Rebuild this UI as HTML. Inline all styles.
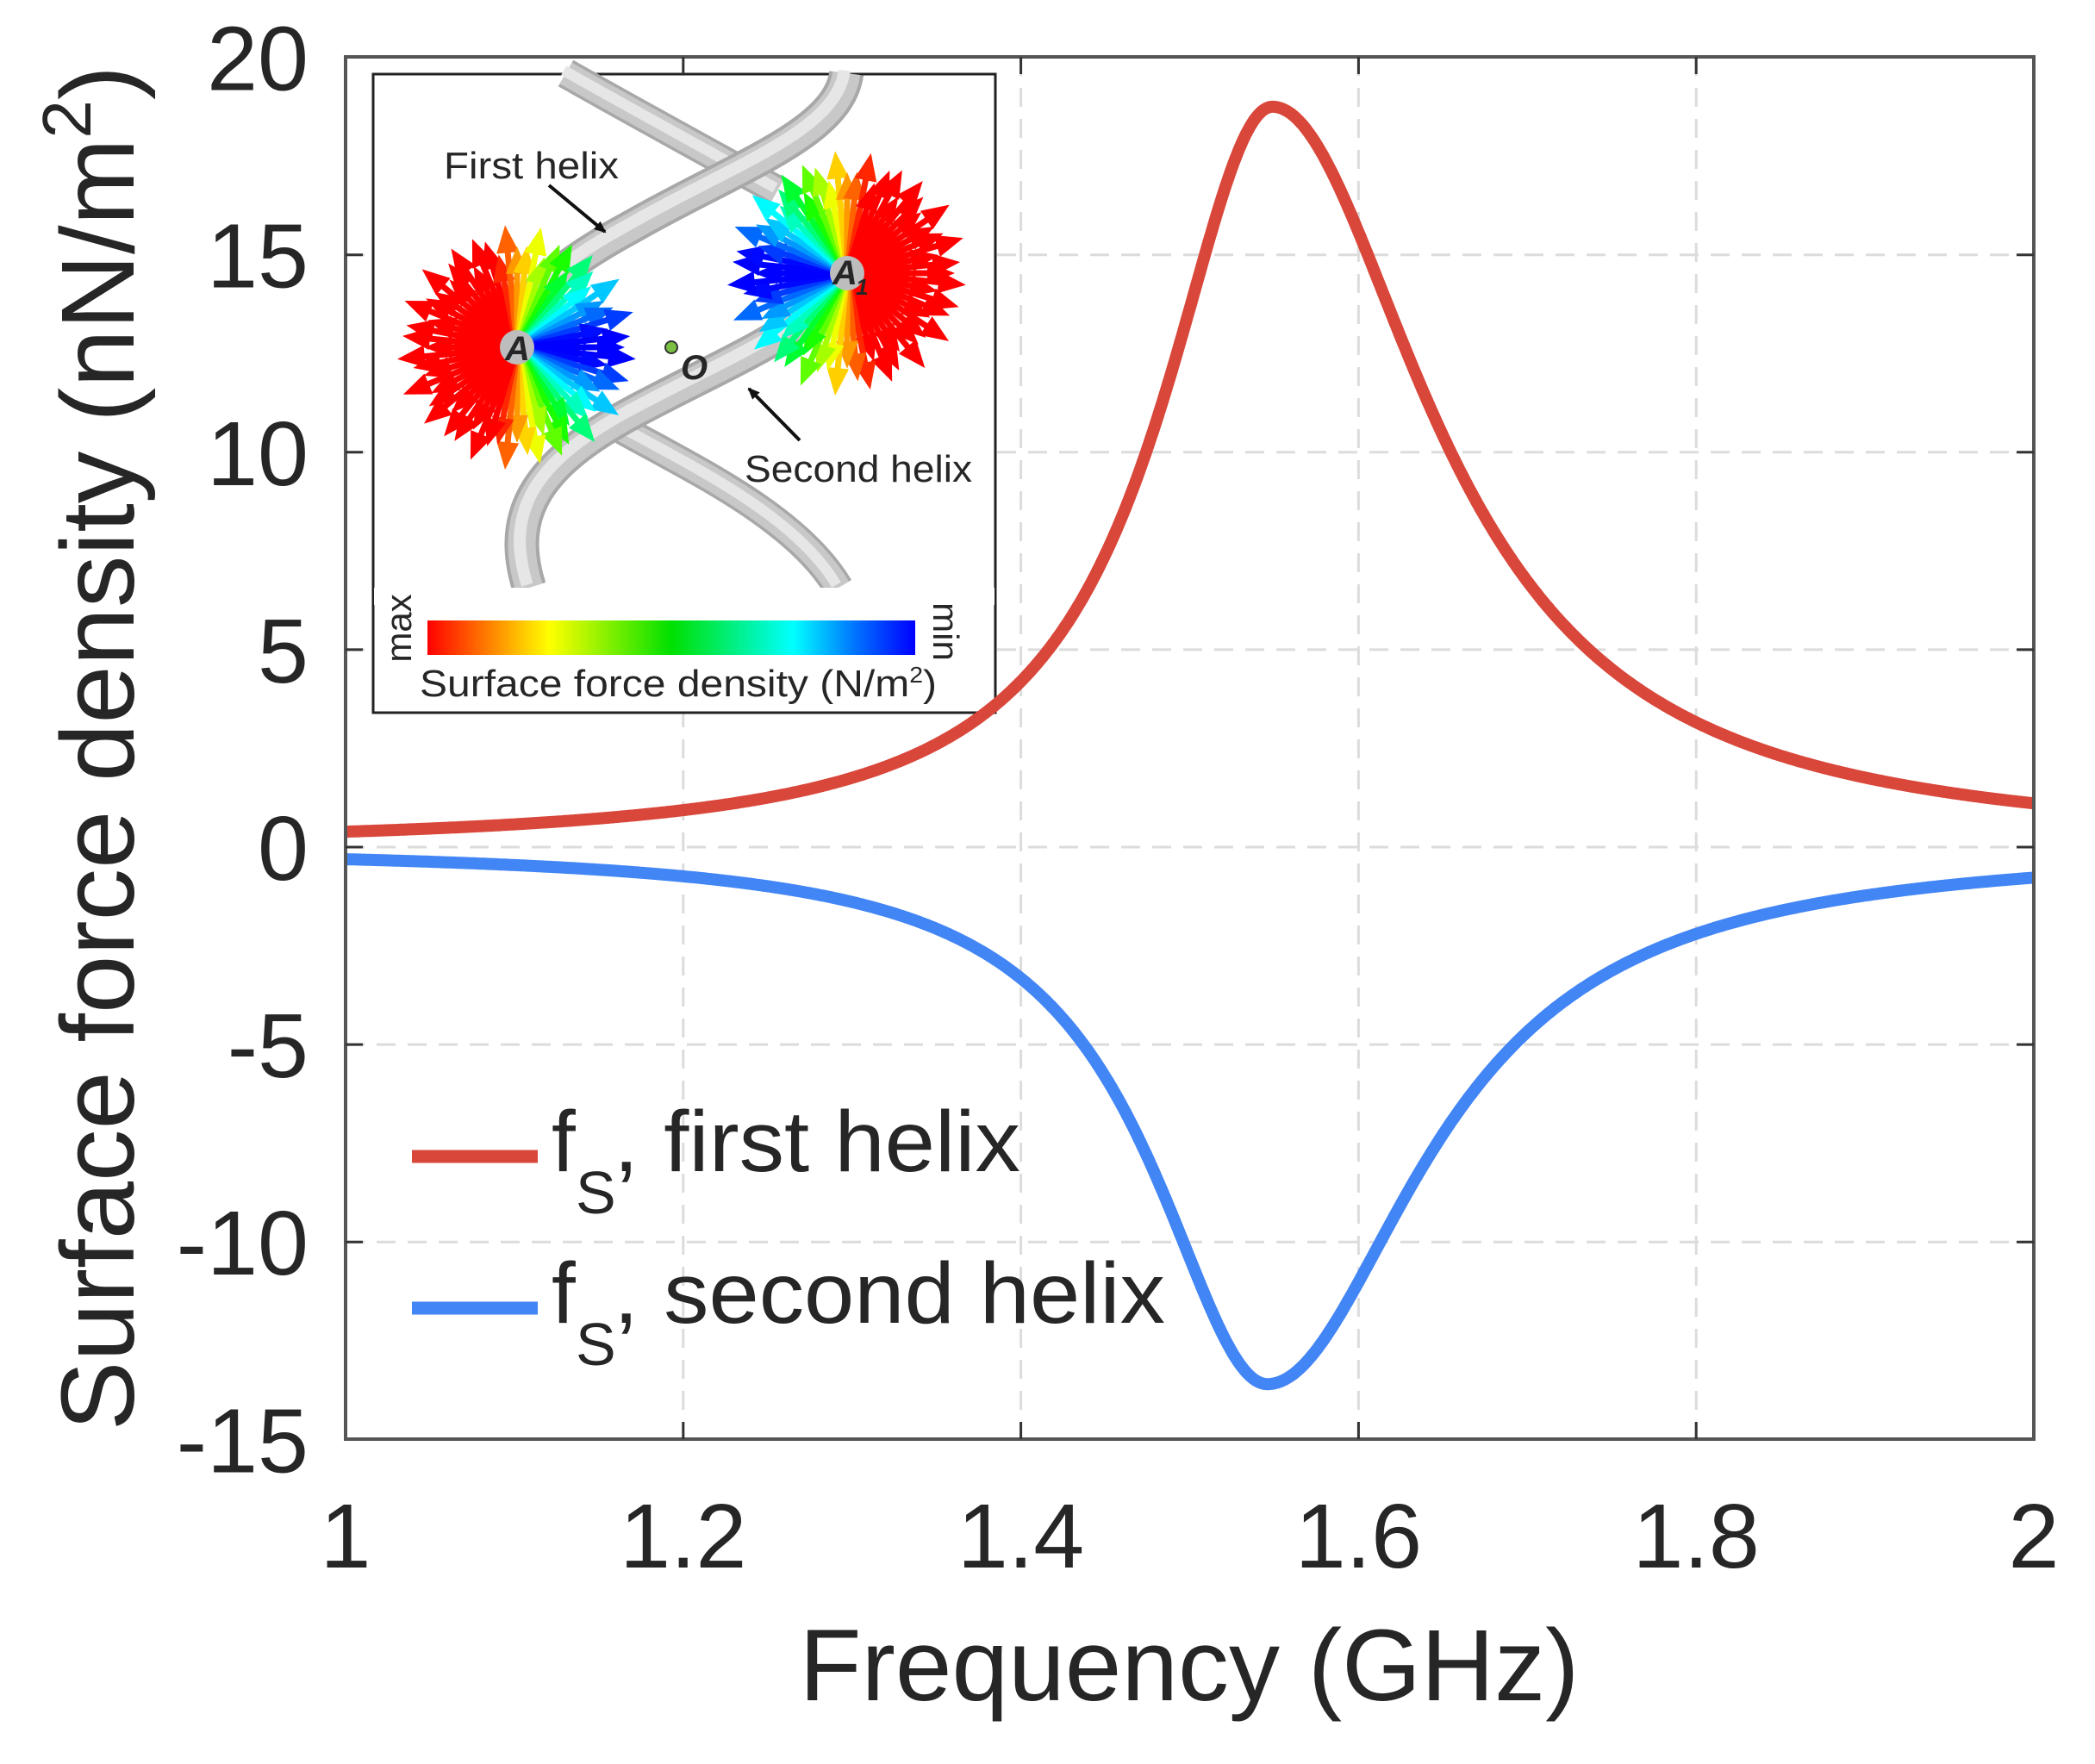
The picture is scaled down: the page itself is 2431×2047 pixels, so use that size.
<!DOCTYPE html>
<html><head><meta charset="utf-8">
<style>
html,body{margin:0;padding:0;background:#fff;}
svg{display:block;}
text{font-family:"Liberation Sans",Arial,sans-serif;fill:#262626;}
</style></head>
<body>
<svg id="s" width="2431" height="2047" viewBox="0 0 2431 2047" xmlns="http://www.w3.org/2000/svg">
<defs>
<linearGradient id="cb" x1="0" x2="1" y1="0" y2="0">
<stop offset="0" stop-color="#ff0000"/>
<stop offset="0.12" stop-color="#ff7a00"/>
<stop offset="0.25" stop-color="#ffff00"/>
<stop offset="0.5" stop-color="#00e000"/>
<stop offset="0.75" stop-color="#00ffff"/>
<stop offset="0.88" stop-color="#0070ff"/>
<stop offset="1" stop-color="#0000ff"/>
</linearGradient>
<marker id="ah" markerWidth="14" markerHeight="12" refX="12" refY="6" orient="auto" markerUnits="userSpaceOnUse">
<path d="M0,0 L14,6 L0,12 Z" fill="#111"/>
</marker>
</defs>
<rect width="2431" height="2047" fill="#fff"/>
<g id="grid"></g>
<g id="inset"></g>
<g id="curves"></g>
<g id="axes"></g>
<g id="labels"></g>
<line x1="478" y1="1342" x2="624" y2="1342" stroke="#d9473b" stroke-width="15"/>
<line x1="478" y1="1518" x2="624" y2="1518" stroke="#4285f4" stroke-width="15"/>
<text x="640" y="1359" font-size="100">f</text>
<text x="668" y="1408" font-size="70">S</text>
<text x="712" y="1359" font-size="100" textLength="472" lengthAdjust="spacingAndGlyphs">, first helix</text>
<text x="640" y="1535" font-size="100">f</text>
<text x="668" y="1584" font-size="70">S</text>
<text x="712" y="1535" font-size="100" textLength="640" lengthAdjust="spacingAndGlyphs">, second helix</text>
<text x="1380" y="1973" font-size="118" text-anchor="middle">Frequency (GHz)</text>
<text transform="translate(155,868) rotate(-90)" font-size="121" text-anchor="middle">Surface force density (nN/m<tspan font-size="80" dy="-50">2</tspan><tspan dy="50">)</tspan></text>
</svg>
<script>
var NS="http://www.w3.org/2000/svg";
function el(p,t,a){var e=document.createElementNS(NS,t);for(var k in a)e.setAttribute(k,a[k]);p.appendChild(e);return e;}
var L=401,R=2360,T=66,B=1670,Y0=983,S=45.82;
function X(f){return L+(f-1)*(R-L);}
function Y(v){return Y0-v*S;}
var g=document.getElementById('grid'),ax=document.getElementById('axes'),lb=document.getElementById('labels'),cv=document.getElementById('curves');
var xt=[1,1.2,1.4,1.6,1.8,2],xl=["1","1.2","1.4","1.6","1.8","2"];
for(var i=1;i<5;i++){el(g,'line',{x1:X(xt[i]),x2:X(xt[i]),y1:T,y2:B,stroke:'#dcdcdc','stroke-width':3,'stroke-dasharray':'22,14'});}
for(var v=-10;v<=15;v+=5){el(g,'line',{x1:L,x2:R,y1:Y(v),y2:Y(v),stroke:'#dcdcdc','stroke-width':3,'stroke-dasharray':'22,14'});}
function red(f){var d=f-1.549,w=d<0?0.080:0.113;return 18.75/(1+(d/w)*(d/w));}
function blue(f){var d=f-1.546,w=d<0?0.083:0.1115;return -13.6/(1+(d/w)*(d/w));}
function path(fn){var s="";for(var i=0;i<=1000;i++){var f=1+i/1000;s+=(i?"L":"M")+X(f).toFixed(1)+","+Y(fn(f)).toFixed(1);}return s;}
el(cv,'path',{d:path(red),fill:'none',stroke:'#d9473b','stroke-width':14,'stroke-linejoin':'round'});
el(cv,'path',{d:path(blue),fill:'none',stroke:'#4285f4','stroke-width':14,'stroke-linejoin':'round'});
el(ax,'rect',{x:L,y:T,width:R-L,height:B-T,fill:'none',stroke:'#555','stroke-width':4});
for(var i=1;i<5;i++){var x=X(xt[i]);el(ax,'line',{x1:x,x2:x,y1:B,y2:B-20,stroke:'#333','stroke-width':3});el(ax,'line',{x1:x,x2:x,y1:T,y2:T+20,stroke:'#333','stroke-width':3});}
for(var v=-10;v<=15;v+=5){el(ax,'line',{x1:L,x2:L+20,y1:Y(v),y2:Y(v),stroke:'#333','stroke-width':3});el(ax,'line',{x1:R,x2:R-20,y1:Y(v),y2:Y(v),stroke:'#333','stroke-width':3});}
for(var i=0;i<6;i++){var t=el(lb,'text',{x:X(xt[i]),y:1819,'font-size':106,'text-anchor':'middle'});t.textContent=xl[i];}
for(var v=-15;v<=20;v+=5){var t=el(lb,'text',{x:358,y:Y(v)+38,'font-size':106,'text-anchor':'end'});t.textContent=String(v);}
var ins=document.getElementById('inset');
el(ins,'rect',{x:433,y:86,width:722,height:741,fill:'#fff',stroke:'#222','stroke-width':3});
var hg=el(ins,'g',{transform:'translate(430,85) scale(0.472,0.47)'});
function tube(d,w){el(hg,'path',{d:d,fill:'none',stroke:'#a8a8a8','stroke-width':w});el(hg,'path',{d:d,fill:'none',stroke:'#c8c8c8','stroke-width':w*0.8});el(hg,'path',{d:d,fill:'none',stroke:'#e6e6e6','stroke-width':w*0.35,transform:'translate(-5,-7)'});}
tube("M480,0 C620,80 820,190 1000,290",75);
tube("M620,880 C800,980 1050,1100 1150,1270",75);
tube("M1170,0 C1150,150 900,230 640,380 C420,500 360,580 360,680",85);
tube("M1170,480 C1120,620 900,700 640,840 C420,960 330,1080 390,1270",85);
el(ins,'rect',{x:434,y:682,width:720,height:20,fill:'#fff'});
function hueOf(a){ // a: 0 = red side, 180 = blue side
 if(a<75) return 0;
 if(a<100) return (a-75)/25*60;
 if(a<120) return 60+(a-100)/20*60;
 if(a<140) return 120+(a-120)/20*60;
 return Math.min(240,180+(a-140)/30*60);}
function burst(cx,cy,mirror){var bg=el(ins,'g',{});for(var i=0;i<64;i++){var a=i/64*2*Math.PI;var dx=Math.cos(a),dy=Math.sin(a);
 var fromLeft=Math.acos(-dx)*180/Math.PI; if(mirror)fromLeft=180-fromLeft;
 var hue=hueOf(fromLeft);
 var r=125+18*Math.sin(i*2.3);var col='hsl('+hue.toFixed(0)+',100%,50%)';
 var x2=cx+dx*r,y2=cy+dy*r;
 el(bg,'line',{x1:cx,y1:cy,x2:cx+dx*(r-24),y2:cy+dy*(r-24),stroke:col,'stroke-width':7});
 var px=-dy,py=dx;
 el(bg,'path',{d:"M"+x2+","+y2+" L"+(cx+dx*(r-32)+px*13)+","+(cy+dy*(r-32)+py*13)+" L"+(cx+dx*(r-32)-px*13)+","+(cy+dy*(r-32)-py*13)+"Z",fill:col});}
 el(ins,'circle',{cx:cx,cy:cy,r:20,fill:'#bdbdbd'});}
burst(600,403,false);
burst(983,317,true);
var t;
t=el(ins,'text',{x:586,y:418,'font-size':40,'font-weight':'bold','font-style':'italic',fill:'#111'});t.textContent="A";
t=el(ins,'text',{x:966,y:330,'font-size':40,'font-weight':'bold','font-style':'italic',fill:'#111'});t.textContent="A";
t=el(ins,'text',{x:993,y:342,'font-size':26,'font-weight':'bold','font-style':'italic',fill:'#111'});t.textContent="1";
el(ins,'circle',{cx:779,cy:403,r:7,fill:'#7ac143',stroke:'#333','stroke-width':2});
t=el(ins,'text',{x:790,y:440,'font-size':40,'font-weight':'bold','font-style':'italic',fill:'#111'});t.textContent="O";
t=el(ins,'text',{x:515,y:207,'font-size':44,textLength:203,lengthAdjust:'spacingAndGlyphs',fill:'#111'});t.textContent="First helix";
t=el(ins,'text',{x:864,y:559,'font-size':44,textLength:264,lengthAdjust:'spacingAndGlyphs',fill:'#111'});t.textContent="Second helix";
el(ins,'line',{x1:637,y1:215,x2:702,y2:269,stroke:'#111','stroke-width':4,'marker-end':'url(#ah)'});
el(ins,'line',{x1:928,y1:511,x2:869,y2:451,stroke:'#111','stroke-width':4,'marker-end':'url(#ah)'});
el(ins,'rect',{x:496,y:720,width:566,height:40,fill:'url(#cb)'});
t=el(ins,'text',{x:487,y:808,'font-size':44,textLength:600,lengthAdjust:'spacingAndGlyphs',fill:'#111'});t.innerHTML='Surface force density (N/m<tspan font-size="26" dy="-16">2</tspan><tspan dy="16">)</tspan>';
t=el(ins,'text',{transform:'translate(477,729) rotate(-90)','font-size':42,'text-anchor':'middle',fill:'#111'});t.textContent="max";
t=el(ins,'text',{transform:'translate(1083,733) rotate(90)','font-size':42,'text-anchor':'middle',fill:'#111'});t.textContent="min";
</script>
</body></html>
